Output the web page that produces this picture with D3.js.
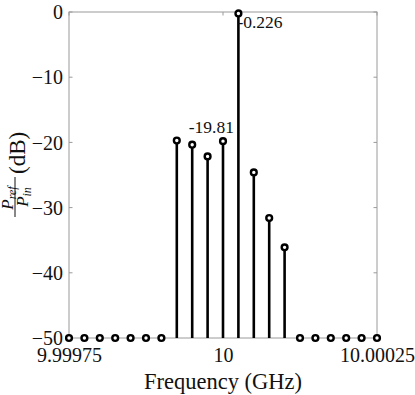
<!DOCTYPE html>
<html lang="en">
<head>
<meta charset="utf-8">
<title>Reflected power spectrum</title>
<script src="https://d3js.org/d3.v7.min.js"></script>
<style>
  body { margin: 0; background: #fff; }
  text { font-family: "Liberation Serif", "Times New Roman", serif; fill: #111; }
</style>
</head>
<body>
<script>
  // chart data
  var freqs = [9.99975, 9.999775, 9.9998, 9.999825, 9.99985, 9.999875, 9.9999, 9.999925,
               9.99995, 9.999975, 10, 10.000025, 10.00005, 10.000075, 10.0001, 10.000125,
               10.00015, 10.000175, 10.0002, 10.000225, 10.00025];
  var powers = [-50, -50, -50, -50, -50, -50, -50, -19.72,
                -20.35, -22.15, -19.81, -0.226, -24.6, -31.6, -36.1, -50,
                -50, -50, -50, -50, -50];
  var xTicks = [9.99975, 10, 10.00025];
  var xTickLabels = ["9.99975", "10", "10.00025"];
  var yTicks = [0, -10, -20, -30, -40, -50];
  var notes = [{f: 10, p: -19.81, text: "-19.81"}, {f: 10.000025, p: -0.226, text: "-0.226"}];

  var w = 415, h = 395;
  var pLeft = 69, pRight = 377, pTop = 12, pBottom = 338;

  var x = d3.scaleLinear().domain([9.99975, 10.00025]).range([pLeft, pRight]);
  var y = d3.scaleLinear().domain([-50, 0]).range([pBottom, pTop]);

  var svg = d3.select("body").append("svg").attr("width", w).attr("height", h);

  // box
  svg.append("rect").attr("x", pLeft).attr("y", pTop)
    .attr("width", pRight - pLeft).attr("height", pBottom - pTop)
    .attr("fill", "none").attr("stroke", "#9a9a9a").attr("stroke-width", 1);

  // tick labels
  var xAxis = d3.axisBottom(x).tickValues(xTicks).tickSize(0).tickFormat(function(d, i) { return xTickLabels[i]; });
  var gx = svg.append("g").attr("transform", "translate(0," + pBottom + ")").call(xAxis);
  gx.select(".domain").remove();
  gx.selectAll("text").attr("font-size", "20px").attr("dy", "0").attr("y", 24).attr("fill", "#111")
    .style("font-family", "'Liberation Serif', serif");

  var yAxis = d3.axisLeft(y).tickValues(yTicks).tickSize(0).tickFormat(d3.format("d"));
  var gy = svg.append("g").attr("transform", "translate(" + pLeft + ",0)").call(yAxis);
  gy.select(".domain").remove();
  gy.selectAll("text").attr("font-size", "20px").attr("x", -6).attr("dy", "0.33em").attr("fill", "#111")
    .style("font-family", "'Liberation Serif', serif");

  // inward ticks on all four sides
  var tickLen = 3.5;
  xTicks.forEach(function(t) {
    svg.append("line").attr("x1", x(t)).attr("x2", x(t)).attr("y1", pBottom).attr("y2", pBottom - tickLen).attr("stroke", "#9a9a9a");
    svg.append("line").attr("x1", x(t)).attr("x2", x(t)).attr("y1", pTop).attr("y2", pTop + tickLen).attr("stroke", "#9a9a9a");
  });
  yTicks.forEach(function(t) {
    svg.append("line").attr("x1", pLeft).attr("x2", pLeft + tickLen).attr("y1", y(t)).attr("y2", y(t)).attr("stroke", "#9a9a9a");
    svg.append("line").attr("x1", pRight).attr("x2", pRight - tickLen).attr("y1", y(t)).attr("y2", y(t)).attr("stroke", "#9a9a9a");
  });

  // stems
  svg.selectAll("line.stem").data(d3.range(freqs.length)).enter().append("line")
    .attr("class", "stem")
    .attr("x1", function(i) { return x(freqs[i]); }).attr("x2", function(i) { return x(freqs[i]); })
    .attr("y1", y(-50)).attr("y2", function(i) { return y(powers[i]); })
    .attr("stroke", "#000").attr("stroke-width", 2.6);

  svg.selectAll("circle.mk").data(d3.range(freqs.length)).enter().append("circle")
    .attr("class", "mk")
    .attr("cx", function(i) { return x(freqs[i]); }).attr("cy", function(i) { return y(powers[i]); })
    .attr("r", 2.9).attr("fill", "#fff").attr("stroke", "#000").attr("stroke-width", 2.4);

  // annotations
  svg.append("text").attr("x", x(notes[0].f) + 11).attr("y", y(notes[0].p) - 8)
    .attr("text-anchor", "end").attr("font-size", "17.5px").text(notes[0].text);
  svg.append("text").attr("x", x(notes[1].f) - 1).attr("y", y(notes[1].p) + 15)
    .attr("font-size", "17.5px").text(notes[1].text);

  // axis labels
  svg.append("text").attr("x", (pLeft + pRight) / 2).attr("y", 389)
    .attr("text-anchor", "middle").attr("font-size", "22.5px").text("Frequency (GHz)");

  var yl = svg.append("g").attr("transform", "translate(18,175) rotate(-90)");
  yl.append("text").attr("x", 1).attr("y", 7).attr("font-size", "23px").text("(dB)");
  var fr = yl.append("g").attr("transform", "translate(-22,-3)");
  fr.append("line").attr("x1", -20).attr("x2", 20).attr("y1", 0).attr("y2", 0).attr("stroke", "#111").attr("stroke-width", 1);
  var num = fr.append("text").attr("x", -1).attr("y", -2).attr("text-anchor", "middle").attr("font-size", "17px").attr("font-style", "italic");
  num.append("tspan").text("P");
  num.append("tspan").attr("dy", 3).attr("font-size", "12px").text("ref");
  var den = fr.append("text").attr("x", 0).attr("y", 13).attr("text-anchor", "middle").attr("font-size", "17px").attr("font-style", "italic");
  den.append("tspan").text("P");
  den.append("tspan").attr("dy", 3).attr("font-size", "12px").text("in");
</script>
</body>
</html>
